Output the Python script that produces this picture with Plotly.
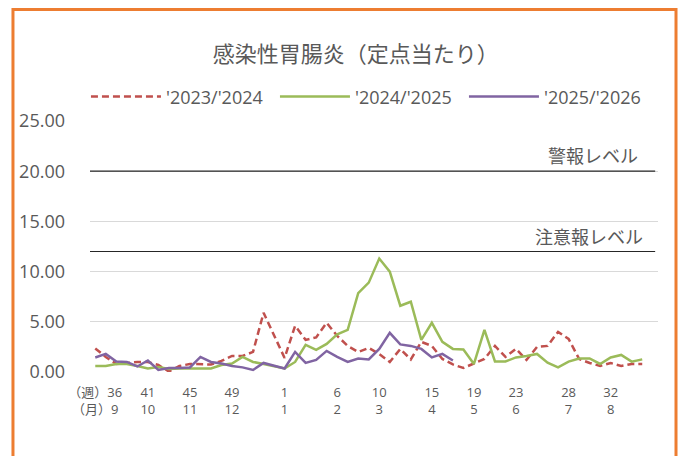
import plotly.graph_objects as go

# ---- data ----
weeks = [str(w) for w in list(range(36, 54)) + list(range(1, 36))]
tick_weeks = ["36", "41", "45", "49", "1", "6", "10", "15", "19", "23", "28", "32"]
tick_months = ["9", "10", "11", "12", "1", "2", "3", "4", "5", "6", "7", "8"]

s2023 = [2.35, 1.5, 0.8, 0.9, 1.0, 1.0, 0.7, 0.05, 0.6, 0.8, 0.8, 0.75, 1.1, 1.6, 1.6, 2.0,
         5.9, 3.6, 1.4, 4.6, 3.2, 3.45, 4.9, 3.6, 2.6, 2.0, 2.4, 1.8, 1.0, 2.3, 1.25, 3.0,
         2.6, 1.3, 0.75, 0.4, 0.85, 1.3, 2.6, 1.5, 2.3, 1.2, 2.5, 2.6, 4.0, 3.3, 1.3, 0.9,
         0.6, 0.9, 0.6, 0.8, 0.8]
s2024 = [0.6, 0.6, 0.8, 0.8, 0.6, 0.35, 0.5, 0.3, 0.35, 0.35, 0.35, 0.35, 0.7, 0.85, 1.5, 1.0,
         0.8, 0.6, 0.35, 1.0, 2.7, 2.2, 2.8, 3.75, 4.2, 7.85, 8.9, 11.3, 10.0, 6.6, 7.0, 3.2,
         4.9, 3.0, 2.3, 2.25, 0.8, 4.2, 1.05, 1.05, 1.45, 1.6, 1.8, 0.93, 0.47, 1.03, 1.35, 1.35,
         0.8, 1.45, 1.7, 1.03, 1.26]
s2025 = [1.45, 1.8, 1.05, 1.0, 0.55, 1.15, 0.2, 0.4, 0.4, 0.45, 1.5, 1.0, 0.85, 0.6, 0.46, 0.2,
         0.9, 0.65, 0.35, 2.0, 0.9, 1.2, 2.1, 1.5, 1.0, 1.35, 1.25, 2.3, 3.9, 2.75, 2.6, 2.3,
         1.45, 1.8, 1.15]

alert_level = 20
warning_level = 12
y_ticks = [0, 5, 10, 15, 20, 25]

FONT = "Open Sans, Noto Sans CJK JP, sans-serif"
GREY = "#595959"

ticktext = []
for i, (w, m) in enumerate(zip(tick_weeks, tick_months)):
    if i == 0:
        ticktext.append("（週）" + w + "<br>（月）" + m)
    else:
        ticktext.append(w + "<br>" + m)

fig = go.Figure()
fig.add_trace(go.Scatter(x=weeks[:len(s2023)], y=s2023, mode="lines", name="'2023/'2024",
                         line=dict(color="#C0504D", width=2.5, dash="7px,4px")))
fig.add_trace(go.Scatter(x=weeks[:len(s2024)], y=s2024, mode="lines", name="'2024/'2025",
                         line=dict(color="#9BBB59", width=2.5)))
fig.add_trace(go.Scatter(x=weeks[:len(s2025)], y=s2025, mode="lines", name="'2025/'2026",
                         line=dict(color="#8064A2", width=2.5)))

fig.add_shape(type="line", xref="paper", yref="y", x0=0, x1=0.995, y0=alert_level, y1=alert_level,
              line=dict(color="#262626", width=1.2))
fig.add_shape(type="line", xref="paper", yref="y", x0=0, x1=0.995, y0=warning_level, y1=warning_level,
              line=dict(color="#262626", width=1.2))
fig.add_annotation(text="警報レベル", xref="paper", yref="y", x=0.968, y=alert_level,
                   xanchor="right", yanchor="bottom", yshift=1, showarrow=False,
                   font=dict(family=FONT, size=18, color=GREY))
fig.add_annotation(text="注意報レベル", xref="paper", yref="y", x=0.977, y=warning_level,
                   xanchor="right", yanchor="bottom", yshift=1, showarrow=False,
                   font=dict(family=FONT, size=18, color=GREY))

# orange frame
fig.add_shape(type="rect", xref="paper", yref="paper", x0=-0.1356, x1=1.0317, y0=-0.45, y1=1.444,
              line=dict(color="#ED7D31", width=3), fillcolor="rgba(0,0,0,0)", layer="above")

fig.update_layout(
    width=682, height=448,
    margin=dict(l=82, r=32, t=113, b=84),
    paper_bgcolor="white", plot_bgcolor="white",
    title=dict(text="感染性胃腸炎（定点当たり）", x=0.51, xanchor="center", y=0.896, yanchor="middle",
               font=dict(family=FONT, size=22, color=GREY)),
    legend=dict(orientation="h", x=0.492, xanchor="center", y=1.096, yanchor="middle",
                font=dict(family=FONT, size=18, color=GREY), itemwidth=70,
                entrywidth=104, entrywidthmode="pixels",
                bgcolor="rgba(0,0,0,0)"),
    xaxis=dict(type="category", categoryorder="array", categoryarray=weeks,
               range=[-0.5, 53.5], tickmode="array", tickvals=tick_weeks, ticktext=ticktext,
               showgrid=False, zeroline=False, showline=False, ticks="",
               ticklabelstandoff=11,
               tickfont=dict(family=FONT, size=13, color=GREY)),
    yaxis=dict(range=[0, 25], tickvals=y_ticks, tickformat=".2f",
               showgrid=True, gridcolor="#D9D9D9", gridwidth=1.3, zeroline=False,
               ticklabelstandoff=24,
               tickfont=dict(family=FONT, size=18, color=GREY)),
)

fig.write_html("out.html")
